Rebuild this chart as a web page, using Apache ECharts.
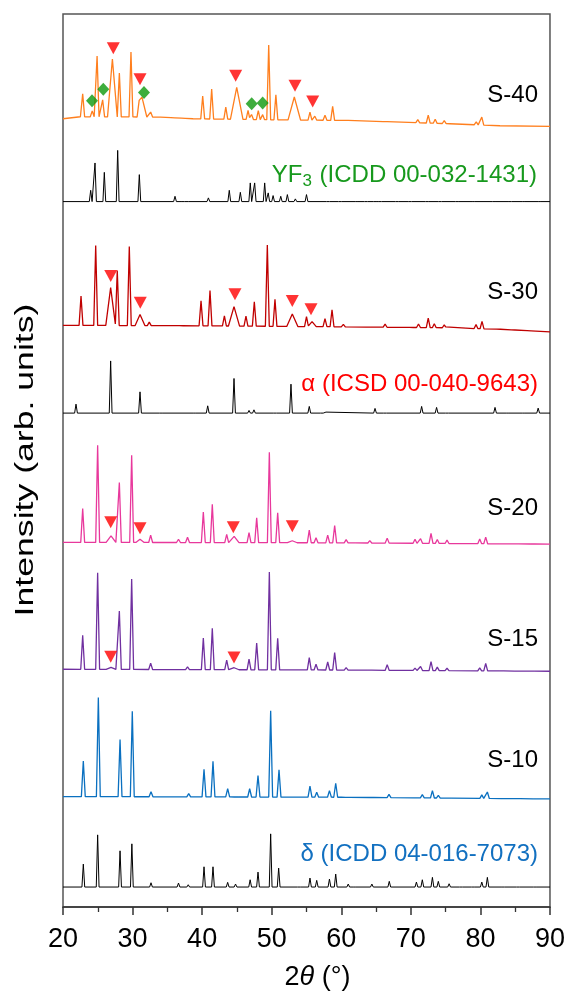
<!DOCTYPE html>
<html>
<head>
<meta charset="utf-8">
<title>XRD patterns</title>
<script src="https://cdn.jsdelivr.net/npm/echarts@6/dist/echarts.min.js"></script>
<style>
  html, body { margin: 0; padding: 0; background: #fff; }
  #chart { width: 568px; height: 996px; }
</style>
</head>
<body>
<div id="chart"></div>
<script>
// 2θ axis ticks
const xTicks = [20, 30, 40, 50, 60, 70, 80, 90];

// Background level of each pattern: [2θ, intensity]
const s40Base = [[20, 790], [22.5, 792], [34, 791.7], [38.7, 790], [50, 789], [61, 788.3], [75.6, 785], [82.8, 783], [90, 782.3]];
const yf3Base = [[20, 707], [90, 707]];
const s30Base = [[20, 583], [40, 582.5], [60, 581.5], [75, 580.5], [83, 579], [90, 576.5]];
const alphaBase = [[20, 495], [90, 495]];
const s20Base = [[20, 365.5], [60, 365], [90, 363.7]];
const s15Base = [[20, 238.3], [60, 237.5], [90, 236.3]];
const s10Base = [[20, 110.7], [60, 110], [90, 108.3]];
const deltaBase = [[20, 20], [90, 20]];

// Reflections: [2θ, height above background, half base width (optional)]
const s40Peaks = [[22.83, 23], [24.2, 6], [24.9, 61], [25.7, 17], [27.1, 58, 0.7], [28.1, 44], [29.77, 65],
  [30.95, 8], [31.35, 20, 0.7], [32.6, 5], [35.8, 2], [37.3, 2], [40.08, 23], [41.37, 30], [43.4, 12],
  [44.97, 32, 0.9], [46.6, 9], [47.1, 5], [48.07, 9], [48.7, 5], [49.57, 75], [50.6, 25], [53.25, 23, 0.9],
  [55.5, 8], [56.2, 4], [57.66, 5], [58.76, 14], [66.3, 2], [71, 3], [72.5, 8], [73.5, 4], [74.8, 3],
  [79.4, 3], [80.2, 8]];
const yf3Peaks = [[23.98, 11.3], [24.6, 38.7], [25.94, 29.3], [27.86, 51.3], [30.97, 27], [36.1, 5.3],
  [37.3, 2], [38.2, 1.5], [40.9, 3.7], [43.9, 11.3], [45.49, 9.3], [46.92, 18.7], [47.55, 18.7],
  [48.99, 18.7], [49.5, 8.7], [50.2, 6], [51.3, 5.3], [52.25, 7], [53.4, 2.7], [55.0, 7], [58.1, 2],
  [59.8, 1.5], [62.2, 1.5], [63.55, 2], [64.8, 1.5], [65.6, 1.5], [68, 1.5], [69.9, 1.5], [72.3, 1.5],
  [74.2, 2], [76.6, 1.5], [79, 1.5], [81.9, 1.5], [84.3, 1.5], [86.2, 1.5], [88.5, 1.5]];
const s30Peaks = [[22.59, 29.3], [24.7, 80], [26.85, 38, 0.7], [27.8, 55], [29.53, 79.3], [31.07, 11, 0.7],
  [32.4, 3.5], [37, 2], [39.84, 25], [41.13, 35.3], [43.2, 10], [44.58, 19.5, 0.8], [46.3, 10], [47.5, 24.5],
  [49.37, 81.5], [50.47, 27], [52.96, 12.5, 0.8], [55.0, 10], [55.8, 5, 0.6], [57.66, 8], [58.67, 17],
  [60.3, 2.5], [63.9, 1.5], [66.3, 3], [70.1, 2], [71.1, 3.5], [72.5, 9.5], [73.37, 4], [74.8, 3],
  [79.37, 4], [80.23, 7.5], [82.6, 1.5], [84.7, 1.5], [87.0, 1.5]];
const alphaPeaks = [[21.87, 9], [26.85, 52.3], [31.07, 21.3], [34.04, 1], [38.9, 1], [40.8, 7.3],
  [44.58, 34.7], [46.74, 2.7], [47.45, 3.3], [50.5, 1], [52.77, 29], [55.4, 6.7], [57.2, 1.3], [57.8, 1],
  [64.85, 4.7], [66.3, 1], [71.55, 6.7], [73.7, 5.7], [75.2, 1], [82.1, 5.7], [83.9, 1], [86.2, 1], [88.3, 5]];
const s20Peaks = [[22.83, 34], [24.98, 97.3], [26.9, 6.6, 0.7], [28.1, 60], [29.87, 87.3], [31.07, 3.3, 0.6],
  [32.6, 7.3], [36.6, 3.3], [37.9, 5.3], [40.17, 30.6], [41.46, 38.3], [43.53, 8.3], [44.6, 6.3, 0.7],
  [46.74, 10], [47.84, 25], [49.66, 90.6], [50.86, 30], [52.96, 2, 0.7], [55.4, 12.6], [56.37, 5],
  [58.05, 7.6], [59.05, 17.3], [60.7, 3.3], [61.7, 1.5], [64.1, 2.3], [66.6, 5], [70.6, 4], [71.4, 4.6],
  [72.9, 10], [73.8, 4], [75.2, 3.3], [79.9, 4.6], [80.76, 6.6], [83.06, 1.5], [85.2, 1.5], [87.5, 1.5]];
const s15Peaks = [[22.83, 34], [24.98, 96.7], [26.9, 2, 0.7], [28.1, 58.4], [29.87, 90.7], [32.6, 6.4],
  [36.6, 1.5], [37.9, 2.7], [40.17, 31.7], [41.46, 41.4], [43.53, 9.7], [44.6, 2, 0.7], [46.74, 10.7],
  [47.84, 26.7], [49.66, 98], [50.86, 31.7], [55.4, 12.4], [56.37, 5.7], [58.05, 8], [59.05, 17.4],
  [60.7, 2.4], [61.7, 1], [64.1, 1.4], [66.6, 5.7], [70.6, 2.4], [71.4, 4], [72.9, 9], [73.8, 3.4],
  [75.2, 2.4], [79.9, 3], [80.76, 7.4], [83.06, 1], [85.2, 1], [87.5, 1]];
const s10Peaks = [[22.92, 35.6], [25.08, 99.3], [28.2, 57.3], [29.96, 85.6], [32.65, 5], [36.6, 1.5],
  [38.07, 3.3], [40.27, 27.6], [41.56, 35.6], [43.67, 8.3], [44.9, 1.5], [46.83, 8.3], [48.03, 21.6],
  [49.85, 86.6], [51.05, 27.3], [55.5, 11], [56.47, 5], [58.3, 6.6], [59.2, 14], [60.9, 2], [64.4, 1.5],
  [66.86, 3.3], [70.74, 2], [71.65, 3.3], [73.1, 7.3], [73.95, 2.7], [75.5, 2], [80.2, 3.5], [81.0, 6.5],
  [83.3, 1], [85.45, 1], [87.85, 1]];
const deltaPeaks = [[22.92, 23], [24.98, 52.3], [28.2, 36.3], [29.9, 43.3], [32.65, 4.3], [36.6, 4],
  [38, 2.3], [40.27, 20.3], [41.56, 20.3], [43.67, 4.7], [44.8, 3], [46.9, 7.3], [48.03, 15], [49.85, 53.3],
  [51, 19], [53.9, 1], [55.5, 9], [56.47, 6.7], [58.3, 8], [59.2, 13], [61, 3], [61.9, 2], [64.4, 3],
  [66.9, 5.7], [70.8, 5], [71.65, 7.3], [73.1, 9.7], [73.95, 5.7], [75.5, 3.3], [77.2, 2], [78.9, 2],
  [80.2, 5], [81.0, 9.7], [83.3, 2], [85.4, 1.5], [87.8, 1.5]];

// Phase markers: [2θ, intensity]
const alphaMarks = [[27.23, 860.7], [31.07, 829.7], [44.82, 833], [53.35, 823], [55.89, 807.3],
  [26.86, 632.3], [31.11, 605.7], [44.72, 614], [52.96, 607.3], [55.65, 599],
  [26.86, 385.7], [31.07, 379.7], [44.48, 380.7], [52.96, 381.7],
  [26.86, 250.7], [44.58, 250]];
const yf3Marks = [[24.17, 808], [25.79, 819.7], [31.64, 816.3], [47.12, 805], [48.70, 805.7]];

const FONT = '"Liberation Sans", Arial, sans-serif';

// Background level at 2θ, between the listed background points
function levelAt(base, x) {
  for (let i = 0; i < base.length - 1; i++) {
    const a = base[i], b = base[i + 1];
    if (x >= a[0] && x <= b[0]) return a[1] + (b[1] - a[1]) * (x - a[0]) / (b[0] - a[0]);
  }
  return base[base.length - 1][1];
}

// Polyline through the background points and each reflection's base/apex vertices
function trace(base, peaks, hw) {
  const xs = new Set(base.map(p => p[0]));
  peaks.forEach(p => {
    const w = p[2] || hw;
    [p[0] - w, p[0], p[0] + w].forEach(v => xs.add(Math.round(v * 1000) / 1000));
  });
  return [...xs].filter(x => x >= 20 && x <= 90).sort((a, b) => a - b).map(x => {
    let y = levelAt(base, x);
    peaks.forEach(p => {
      const w = p[2] || hw;
      const d = Math.abs(x - p[0]);
      if (d < w) y += p[1] * (1 - d / w);
    });
    return [x, y];
  });
}

function lineSeries(name, base, peaks, hw, color, width) {
  return {
    name, type: 'line', data: trace(base, peaks, hw), showSymbol: false, smooth: false,
    silent: true, z: 2, lineStyle: { color, width }
  };
}

function label(text, right, cy, color, rich) {
  return {
    type: 'text', right: 568 - right, top: cy - 14, z: 10, silent: true,
    style: { text, fill: color, font: '24px ' + FONT, rich: rich || undefined }
  };
}

const chart = echarts.init(document.getElementById('chart'), null, { renderer: 'canvas' });

const subRich = {
  n: { fontSize: 24, fontFamily: FONT, fill: '#17991d', color: '#17991d' },
  s: { fontSize: 17, fontFamily: FONT, color: '#17991d', verticalAlign: 'bottom', padding: [12, 1, 0, 0] }
};

chart.setOption({
  animation: false,
  grid: { left: 63, right: 18, top: 14, bottom: 87, show: true, borderColor: '#555', borderWidth: 1.5 },
  xAxis: {
    type: 'value', min: xTicks[0], max: xTicks[xTicks.length - 1], interval: 10,
    axisLine: { show: true, lineStyle: { color: '#333', width: 1.5 } },
    axisTick: { show: true, inside: false, length: 8, lineStyle: { color: '#333', width: 1.5 } },
    minorTick: { show: true, splitNumber: 2, length: 5, lineStyle: { color: '#333', width: 1.3 } },
    splitLine: { show: false },
    axisLabel: { fontSize: 27, fontFamily: FONT, color: '#000', margin: 19 },
    name: '{a|2}{b|θ}{a| (°)}', nameLocation: 'middle', nameGap: 57,
    nameTextStyle: {
      padding: [0, 0, 0, 22],
      rich: {
        a: { fontSize: 27, fontFamily: FONT, color: '#000' },
        b: { fontSize: 27, fontFamily: FONT, color: '#000', fontStyle: 'italic' }
      }
    }
  },
  yAxis: { type: 'value', min: 0, max: 895, show: false },
  series: [
    lineSeries('S-40', s40Base, s40Peaks, 0.28, '#ff7f1e', 1.3),
    lineSeries('YF3', yf3Base, yf3Peaks, 0.2, '#000', 1),
    lineSeries('S-30', s30Base, s30Peaks, 0.28, '#c00000', 1.3),
    lineSeries('α', alphaBase, alphaPeaks, 0.2, '#000', 1),
    lineSeries('S-20', s20Base, s20Peaks, 0.28, '#e8389c', 1.3),
    lineSeries('S-15', s15Base, s15Peaks, 0.28, '#7030a0', 1.3),
    lineSeries('S-10', s10Base, s10Peaks, 0.28, '#0a70c0', 1.3),
    lineSeries('δ', deltaBase, deltaPeaks, 0.2, '#000', 1),
    {
      name: 'α markers', type: 'scatter', data: alphaMarks, symbol: 'triangle', symbolRotate: 180,
      symbolSize: [13, 12], itemStyle: { color: '#ff0000' }, z: 5, silent: true
    },
    {
      name: 'YF3 markers', type: 'scatter', data: yf3Marks, symbol: 'diamond',
      symbolSize: [12, 13], itemStyle: { color: '#0c990c' }, z: 5, silent: true
    }
  ],
  graphic: [
    {
      type: 'text', x: 26, y: 460, rotation: Math.PI / 2, scaleX: 1.37, scaleY: 1, silent: true,
      style: { text: 'Intensity (arb. units)', font: '26px ' + FONT, fill: '#000', align: 'center', verticalAlign: 'middle' }
    },
    label('S-40', 538, 97, '#000'),
    label('{n|YF}{s|3}{n| (ICDD 00-032-1431)}', 537, 177, '#17991d', subRich),
    label('S-30', 538, 294, '#000'),
    label('α (ICSD 00-040-9643)', 538, 386, '#ff0000'),
    label('S-20', 538, 510, '#000'),
    label('S-15', 538, 641, '#000'),
    label('S-10', 538, 762, '#000'),
    label('δ (ICDD 04-016-7073)', 538, 856, '#1270c0')
  ]
});
</script>
</body>
</html>
